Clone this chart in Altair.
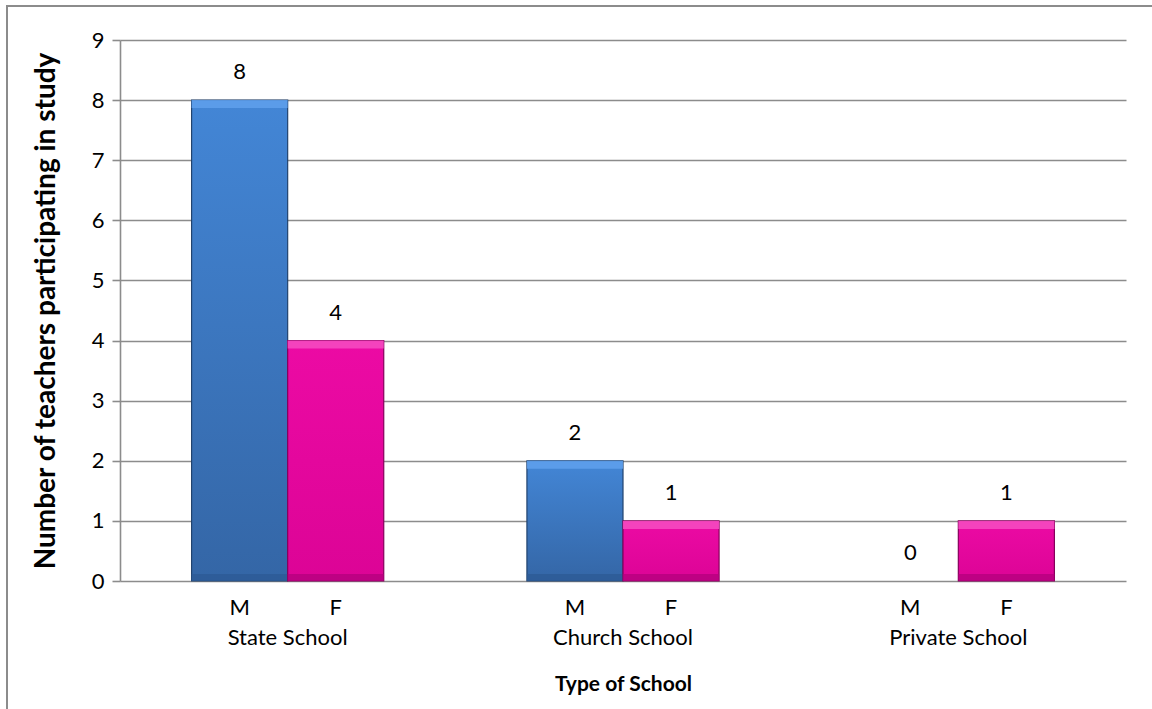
import altair as alt
import pandas as pd

# Teachers taking part in the study, by school type and gender
schools = ["State School", "Church School", "Private School"]
genders = ["M", "F"]
male_counts = [8, 2, 0]
female_counts = [4, 1, 1]

rows = []
for s, m, f in zip(schools, male_counts, female_counts):
    rows.append({"school": s, "gender": "M", "count": m})
    rows.append({"school": s, "gender": "F", "count": f})
df = pd.DataFrame(rows)

FONT = "Lato"
W, H = 1006, 541
GRID = "#8c8c8c"
LABEL_SIZE = 22

x_enc = alt.X(
    "school:N",
    sort=schools,
    scale=alt.Scale(domain=schools, paddingInner=0.427, paddingOuter=0.2135),
    axis=alt.Axis(
        title="Type of School",
        domain=False,
        ticks=False,
        labelAngle=0,
        labelPadding=46,
        labelFontSize=LABEL_SIZE,
        labelFont=FONT,
        labelColor="#000",
        titleFont=FONT,
        titleFontSize=21,
        titleFontWeight="bold",
        titleColor="#000",
        titlePadding=25,
    ),
)
xoff = alt.XOffset("gender:N", sort=genders,
                   scale=alt.Scale(domain=genders, paddingInner=0, paddingOuter=0))
y_scale = alt.Scale(domain=[0, 9], nice=False)
y_enc = alt.Y(
    "count:Q",
    scale=y_scale,
    axis=alt.Axis(
        title="Number of teachers participating in study",
        values=list(range(10)),
        format="d",
        grid=True,
        gridColor=GRID,
        gridWidth=1.6,
        domainColor=GRID,
        domainWidth=1.6,
        tickColor=GRID,
        tickWidth=1.6,
        tickSize=8,
        labelPadding=8,
        labelFontSize=LABEL_SIZE,
        labelFont=FONT,
        labelColor="#000",
        titleFont=FONT,
        titleFontSize=28,
        titleFontWeight="bold",
        titleColor="#000",
        titlePadding=31,
    ),
)


def grad(top, bottom):
    return alt.Gradient(
        gradient="linear",
        stops=[alt.GradientStop(color=top, offset=0),
               alt.GradientStop(color=bottom, offset=1)],
        x1=0, x2=0, y1=0, y2=1,
    )


styles = {
    "M": dict(body=grad("#4386D6", "#3466A6"), hi="#5FA0EC", lo="#2C5A94", edge="#22436E"),
    "F": dict(body=grad("#EC0AA4", "#DC0496"), hi="#F64DC2", lo="#B3007C", edge="#86005C"),
}

base = alt.Chart(df)
layers = []
for g in genders:
    st = styles[g]
    sub = base.transform_filter(alt.datum.gender == g).transform_filter(alt.datum.count > 0)
    # main bar body
    layers.append(
        sub.mark_bar(fill=st["body"], stroke=st["edge"], strokeWidth=1.2)
        .encode(x=x_enc, xOffset=xoff, y=y_enc, y2=alt.datum(0))
    )
    # bevel highlight along the top edge
    layers.append(
        sub.mark_bar(fill=st["hi"], y2Offset=8, opacity=0.85)
        .encode(x=alt.X("school:N", sort=schools), xOffset=xoff,
                y=alt.Y("count:Q", scale=y_scale), y2="count:Q")
    )
    # darker bevel along the bottom edge
    layers.append(
        sub.mark_bar(fill=st["lo"], yOffset=-7, opacity=0.75)
        .encode(x=alt.X("school:N", sort=schools), xOffset=xoff,
                y=alt.datum(0), y2=alt.datum(0))
    )

# value labels above the bars
values = base.mark_text(font=FONT, fontSize=LABEL_SIZE, color="#000", baseline="middle", dy=-28).encode(
    x=alt.X("school:N", sort=schools), xOffset=xoff,
    y=alt.Y("count:Q", scale=y_scale), text="count:Q",
)

# gender labels under each bar
gender_labels = base.mark_text(font=FONT, fontSize=LABEL_SIZE, color="#000", baseline="middle").encode(
    x=alt.X("school:N", sort=schools), xOffset=xoff,
    y=alt.value(H + 27), text="gender:N",
)

one = pd.DataFrame({"k": [0]})
frame_left = alt.Chart(one).mark_rule(color=GRID, strokeWidth=2).encode(
    x=alt.value(-113), y=alt.value(-34), y2=alt.value(H + 140))
frame_top = alt.Chart(one).mark_rule(color=GRID, strokeWidth=2).encode(
    x=alt.value(-114), x2=alt.value(W + 40), y=alt.value(-34))

chart = alt.layer(*layers, values, gender_labels, frame_left, frame_top).properties(
    width=W,
    height=H,
    padding={"left": 120, "top": 40, "right": 26, "bottom": 128},
    autosize=alt.AutoSizeParams(type="none"),
    background="white",
).configure_view(stroke=None)

chart.save("out.html", embed_options={"renderer": "svg", "actions": False})
